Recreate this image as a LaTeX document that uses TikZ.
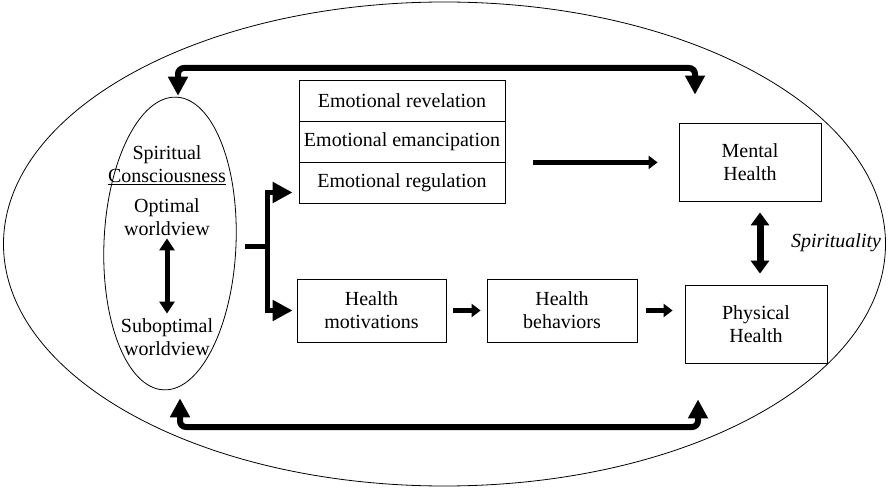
\documentclass[tikz,border=0pt]{standalone}
\usepackage{fontspec}
\setmainfont{Liberation Serif}
\usetikzlibrary{arrows.meta,shapes.geometric}
\tikzset{
	figure/.style={x=1pt, y=-1pt, font=\fontsize{20}{23}\selectfont, line width=0.8pt},
	cell/.style={draw, align=center, inner sep=0pt},
	txt/.style={align=center, inner sep=0pt},
	ring/.style={line width=6pt, rounded corners=6pt,
	             {Triangle[length=19pt,width=19pt]}-{Triangle[length=19pt,width=19pt]}},
	fork/.style={line width=5pt, -{Triangle[length=20pt,width=20pt]}},
	push/.style={line width=5pt, -{Triangle[length=9pt,width=13pt]}},
	swing/.style={line width=7pt, {Triangle[length=13pt,width=18pt]}-{Triangle[length=13pt,width=18pt]}},
	flip/.style={line width=5pt, {Triangle[length=12pt,width=15pt]}-{Triangle[length=12pt,width=15pt]}},
}

\begin{document}
\begin{tikzpicture}[figure]
\useasboundingbox (0,0) rectangle (889,489);

\node[draw, ellipse, minimum width=882pt, minimum height=484pt, inner sep=0pt] (world) at (444.5,244) {};
\node[draw, ellipse, rotate=-2.5, minimum width=132pt, minimum height=293pt, inner sep=0pt] (sc) at (170,243.5) {};

\node[txt] (spirit) at (167,165) {Spiritual\\\underline{Consciousness}};
\node[txt] (opt) at (167,217.5) {Optimal\\worldview};
\node[txt] (sub) at (167,337.5) {Suboptimal\\worldview};

\node[cell, minimum width=206pt, minimum height=41pt] (rev) at (402,100.5) {Emotional revelation};
\node[cell, minimum width=206pt, minimum height=41pt] (eman) at (402,141.5) {Emotional emancipation};
\node[cell, minimum width=206pt, minimum height=41pt] (reg) at (402,182.5) {Emotional regulation};

\node[cell, minimum width=149pt, minimum height=63pt] (mot) at (371.5,310.5) {Health\\motivations};
\node[cell, minimum width=150pt, minimum height=63pt] (beh) at (562,310.5) {Health\\behaviors};

\node[cell, minimum width=142pt, minimum height=78pt] (ment) at (750,162) {Mental\\Health};
\node[cell, minimum width=142pt, minimum height=78pt] (phys) at (756,324) {Physical\\Health};

\node[txt, font=\fontsize{20}{23}\selectfont\itshape] (spir) at (836,243) {Spirituality};

\coordinate (topL) at (178,68);
\coordinate (topR) at (695,68);
\coordinate (botL) at (180,427);
\coordinate (botR) at (698,427);
\coordinate (split) at (267,247);

\draw[ring, shorten <=1pt, shorten >=28pt] (sc.north -| topL) -- (topL) -- (topR) -- (ment.north -| topR);
\draw[ring, shorten <=8pt, shorten >=36pt] (sc.south -| botL) -- (botL) -- (botR) -- (phys.south -| botR);

\draw[flip, shorten <=2pt, shorten >=5pt] (opt) -- (sub);

\draw[line width=5pt, shorten <=9pt] (sc.east |- split) -- (split);
\draw[fork, shorten >=6pt] (split) |- ([yshift=-10pt]reg.west);
\draw[fork, shorten >=4pt] (split) |- (mot.west);

\draw[push, shorten <=28pt, shorten >=21pt] (eman.south east) -- (ment.west |- eman.south east);
\draw[push, shorten <=7pt, shorten >=6pt] (mot) -- (beh);
\draw[push, shorten <=9pt, shorten >=12pt] (beh.east) -- (beh.east -| phys.west);

\draw[swing, shorten <=11pt, shorten >=11pt] ([xshift=10pt]ment.south) -- ([xshift=4pt]phys.north);

\end{tikzpicture}
\end{document}
